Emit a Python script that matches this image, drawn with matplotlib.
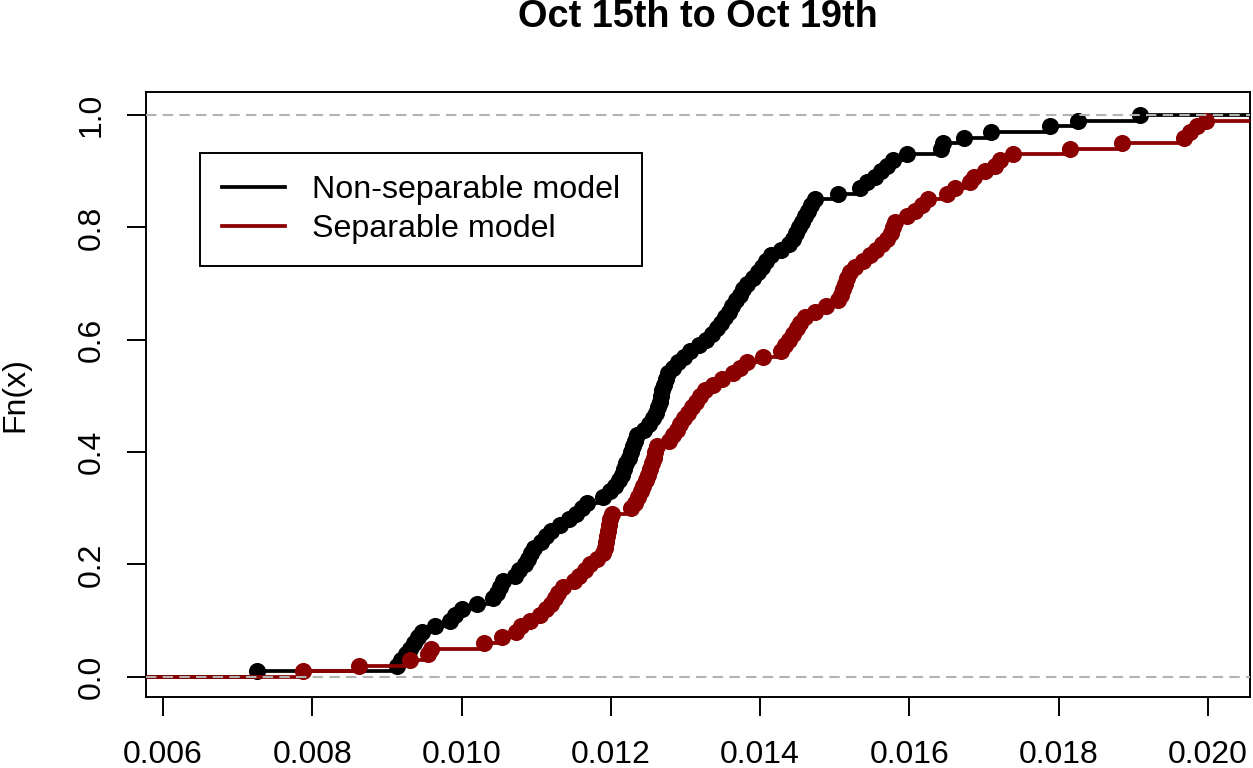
import numpy as np
import matplotlib.pyplot as plt
from matplotlib.lines import Line2D

plt.rcParams['font.family'] = ['Liberation Sans', 'DejaVu Sans']

# sorted values (one point per 1/100 step)
nonsep = [0.00726, 0.00913, 0.00919, 0.00926, 0.00931, 0.00936, 0.00942, 0.00947, 0.00964, 0.00985,
          0.00991, 0.01001, 0.01021, 0.01042, 0.01048, 0.01052, 0.01056, 0.01072, 0.01077, 0.01085,
          0.01089, 0.01093, 0.01097, 0.01106, 0.01113, 0.01120, 0.01132, 0.01144, 0.01153, 0.01161,
          0.01168, 0.01190, 0.01199, 0.01206, 0.01211, 0.01215, 0.01218, 0.01220, 0.01224, 0.01227,
          0.01230, 0.01232, 0.01235, 0.01244, 0.01251, 0.01256, 0.01261, 0.01263, 0.01266, 0.01267,
          0.01269, 0.01271, 0.01274, 0.01277, 0.01283, 0.01290, 0.01298, 0.01306, 0.01318, 0.01327,
          0.01336, 0.01342, 0.01348, 0.01353, 0.01358, 0.01362, 0.01368, 0.01373, 0.01377, 0.01382,
          0.01390, 0.01397, 0.01402, 0.01408, 0.01415, 0.01428, 0.01439, 0.01444, 0.01448, 0.01452,
          0.01456, 0.01460, 0.01464, 0.01468, 0.01474, 0.01504, 0.01534, 0.01543, 0.01554, 0.01562,
          0.01570, 0.01578, 0.01597, 0.01642, 0.01645, 0.01673, 0.01709, 0.01788, 0.01826, 0.01909]

sep = [0.00788, 0.00863, 0.00931, 0.00955, 0.00959, 0.01030, 0.01054, 0.01073, 0.01080, 0.01092,
       0.01105, 0.01113, 0.01120, 0.01125, 0.01129, 0.01136, 0.01151, 0.01157, 0.01165, 0.01172,
       0.01181, 0.01190, 0.01192, 0.01194, 0.01195, 0.01196, 0.01198, 0.01199, 0.01202, 0.01227,
       0.01232, 0.01236, 0.01240, 0.01243, 0.01247, 0.01250, 0.01253, 0.01255, 0.01258, 0.01259,
       0.01262, 0.01278, 0.01283, 0.01289, 0.01293, 0.01298, 0.01303, 0.01309, 0.01314, 0.01320,
       0.01326, 0.01337, 0.01349, 0.01364, 0.01373, 0.01382, 0.01404, 0.01428, 0.01433, 0.01439,
       0.01444, 0.01449, 0.01453, 0.01460, 0.01474, 0.01488, 0.01504, 0.01508, 0.01511, 0.01514,
       0.01516, 0.01520, 0.01527, 0.01538, 0.01547, 0.01555, 0.01563, 0.01570, 0.01575, 0.01578,
       0.01581, 0.01597, 0.01608, 0.01617, 0.01625, 0.01650, 0.01661, 0.01681, 0.01687, 0.01701,
       0.01715, 0.01721, 0.01739, 0.01815, 0.01885, 0.01968, 0.01976, 0.01985, 0.01997, 0.02110]

x_ticks = [0.006, 0.008, 0.010, 0.012, 0.014, 0.016, 0.018, 0.020]
y_ticks = [0.0, 0.2, 0.4, 0.6, 0.8, 1.0]
labels = ['Non-separable model', 'Separable model']
colors = ['black', '#8b0000']
title = 'Oct 15th to Oct 19th'

xlim = (0.005772, 0.020563)
ylim = (-0.036, 1.041)

fig = plt.figure(figsize=(12.53, 7.68), dpi=100)
ax = fig.add_axes([146 / 1253, 1 - 697 / 768, 1104 / 1253, 605 / 768])


def draw_ecdf(values, color, z):
    # step function like R's plot.ecdf: horizontal pieces, dot at each jump
    x = np.sort(np.asarray(values))
    n = len(x)
    y = np.arange(1, n + 1) / n
    starts = np.concatenate([[xlim[0]], x])
    ends = np.concatenate([x, [max(xlim[1], x[-1])]])
    levels = np.concatenate([[0.0], y])
    ax.hlines(levels, starts, ends, colors=color, lw=2.7, zorder=z)
    ax.plot(x, y, 'o', color=color, ms=12.3, mew=0, zorder=z)


draw_ecdf(nonsep, colors[0], 2)
draw_ecdf(sep, colors[1], 4)

# grey dashed 0 / 1 lines
for h in (0, 1):
    ax.axhline(h, color='#b3b3b3', lw=1.5, ls=(0, (5, 3)), zorder=5)

ax.set_xlim(xlim)
ax.set_ylim(ylim)
ax.set_xticks(x_ticks)
ax.set_xticklabels([f'{t:.3f}' for t in x_ticks])
ax.set_yticks(y_ticks)
ax.set_yticklabels([f'{t:.1f}' for t in y_ticks], rotation=90, va='center')
ax.tick_params(axis='both', length=14, width=1.4, labelsize=23, direction='out')
ax.tick_params(axis='x', pad=17)
ax.tick_params(axis='y', pad=14)
for spine in ax.spines.values():
    spine.set_linewidth(1.4)
    spine.set_edgecolor('black')

ax.set_ylabel('Fn(x)', fontsize=23)
ax.yaxis.set_label_coords(-0.105, 0.5)

fig.text(698 / 1253, 1 - 17 / 768, title, ha='center', va='center',
         fontsize=27.3, fontweight='bold')

handles = [Line2D([], [], color=c, lw=2.7) for c in colors]
leg = ax.legend(handles, labels, loc='upper left', bbox_to_anchor=(0.0489, 0.899),
                borderaxespad=0, fontsize=23.2, frameon=True, fancybox=False,
                edgecolor='black', framealpha=1, handlelength=1.95, handletextpad=0.85,
                labelspacing=0.28, borderpad=0.68)
leg.get_frame().set_linewidth(1.4)

fig.savefig('out.png', dpi=100)
